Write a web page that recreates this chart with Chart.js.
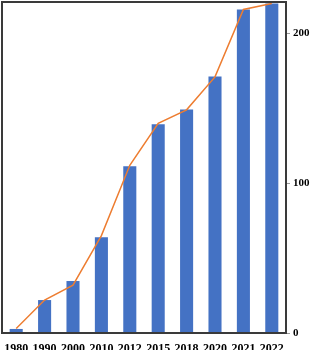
<!DOCTYPE html>
<html>
<head>
<meta charset="utf-8">
<script src="https://cdn.jsdelivr.net/npm/chart.js@4/dist/chart.umd.min.js"></script>
<style>
  html, body { margin: 0; padding: 0; background: #fff; }
  #wrap { width: 312px; height: 350px; }
</style>
</head>
<body>
<div id="wrap"><canvas id="chart" width="312" height="350"></canvas></div>
<script>
const years = ["1980", "1990", "2000", "2010", "2012", "2015", "2018", "2020", "2021", "2022"];
const barValues = [2.7, 22, 34.7, 64, 111.3, 139.3, 149.3, 171.3, 216, 220];
const lineValues = [3, 22, 32, 65, 112, 140, 149, 171, 216, 220];
const yTicks = [0, 100, 200];

// frame around the plot area
const frame = {
  id: "frame",
  afterDraw(chart) {
    const { ctx, chartArea: a } = chart;
    ctx.save();
    ctx.strokeStyle = "#3a3a3a";
    ctx.lineWidth = 2;
    ctx.strokeRect(a.left, a.top, a.right - a.left, a.bottom - a.top);
    ctx.restore();
  }
};

new Chart(document.getElementById("chart"), {
  data: {
    labels: years,
    datasets: [
      {
        type: "line",
        data: lineValues,
        borderColor: "#ED7D31",
        borderWidth: 1.5,
        pointRadius: 0,
        tension: 0,
        order: 0,
      },
      {
        type: "bar",
        data: barValues,
        backgroundColor: "#4472C4",
        barPercentage: 0.46,
        categoryPercentage: 1,
        order: 1,
      },
    ],
  },
  options: {
    responsive: false,
    animation: false,
    layout: { padding: { top: 2, left: 2, right: 0, bottom: 0 } },
    plugins: { legend: { display: false }, tooltip: { enabled: false } },
    scales: {
      x: {
        grid: { display: false, drawTicks: false },
        border: { display: false },
        ticks: {
          color: "#000",
          padding: 9,
          maxRotation: 0,
          autoSkip: false,
          font: { family: "Liberation Serif", size: 12, weight: "bold" },
        },
        afterFit(scale) {
          scale.height = 17;
          scale.paddingLeft = 0;
          scale.paddingRight = 0;
        },
      },
      y: {
        position: "right",
        min: 0,
        max: 221,
        afterBuildTicks(scale) { scale.ticks = yTicks.map((v) => ({ value: v })); },
        grid: { drawOnChartArea: false, drawTicks: true, tickLength: 4, color: "#999" },
        border: { display: false },
        ticks: {
          color: "#000",
          padding: 3,
          font: { family: "Liberation Serif", size: 11, weight: "bold" },
        },
        afterFit(scale) {
          scale.width = 26;
          scale.paddingTop = 0;
          scale.paddingBottom = 0;
        },
      },
    },
  },
  plugins: [frame],
});
</script>
</body>
</html>
